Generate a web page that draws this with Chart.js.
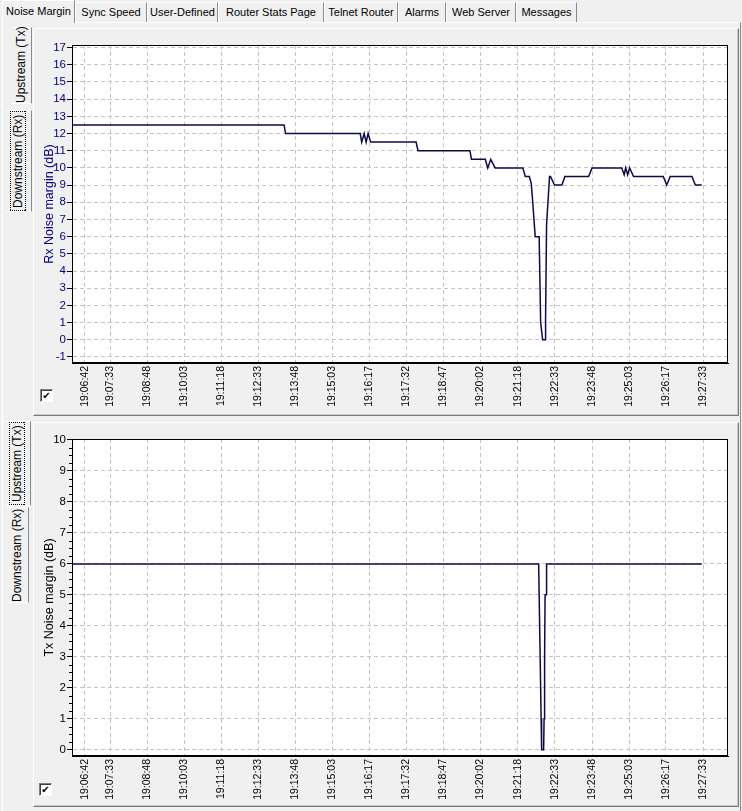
<!DOCTYPE html>
<html>
<head>
<meta charset="utf-8">
<script src="https://cdn.jsdelivr.net/npm/chart.js@4.4.1/dist/chart.umd.min.js"></script>
<style>
body { margin:0; width:742px; height:811px; background:#f0f0f0; position:relative; overflow:hidden;
       font-family:"Liberation Sans", Arial, sans-serif; font-size:11px; color:#000; }
.tab { position:absolute; top:2px; height:20px; box-sizing:border-box; background:#f0f0f0;
       border-top:1px solid #fff; border-left:1px solid #fff; border-right:1px solid #8a8a8a;
       text-align:center; line-height:18px; white-space:nowrap; }
.tab.sel { top:0; height:23px; z-index:2; line-height:20px; }
.panel { position:absolute; left:2px; top:22px; width:739px; height:789px; box-sizing:border-box;
         border-top:1px solid #fff; border-left:1px solid #fff; border-right:1px solid #8a8a8a; }
.box { position:absolute; left:33px; width:706px; box-sizing:border-box;
       border:1px solid; border-color:#fff #7a7a7a #7a7a7a #fff; box-shadow:inset -1px -1px 0 #c8c8c8; }
canvas { position:absolute; }
.vtab { position:absolute; box-sizing:border-box; writing-mode:vertical-rl; transform:rotate(180deg);
        text-align:center; font-size:12px; background:#f0f0f0; white-space:nowrap;
        border-left:1px solid #8a8a8a; border-top:1px solid #fff; border-bottom:1px solid #fff; }
.vtab.sel span { border:1px dotted #000; padding:2px 0; }
.chk { position:absolute; width:13px; height:13px; box-sizing:border-box; background:#fff;
       border:1px solid; border-color:#808080 #fff #fff #808080; box-shadow:inset 1px 1px 0 #404040;
       font-family:"DejaVu Sans"; font-size:10px; line-height:11px; text-align:center; font-weight:bold; }
</style>
</head>
<body>
<div class="panel"></div>
<div class="tab sel" style="left:2px;width:73px">Noise Margin</div>
<div class="tab" style="left:75px;width:72px">Sync Speed</div>
<div class="tab" style="left:147px;width:71px">User-Defined</div>
<div class="tab" style="left:218px;width:106px">Router Stats Page</div>
<div class="tab" style="left:324px;width:74px">Telnet Router</div>
<div class="tab" style="left:398px;width:48px">Alarms</div>
<div class="tab" style="left:446px;width:70px">Web Server</div>
<div class="tab" style="left:516px;width:61px">Messages</div>

<div class="box" style="top:28px;height:388px"></div>
<div class="box" style="top:422px;height:385px"></div>

<div class="vtab" style="left:12px;top:27px;width:20px;height:77px;line-height:18px">Upstream (Tx)</div>
<div class="vtab sel" style="left:6px;top:110px;width:26px;height:102px;line-height:24px"><span>Downstream (Rx)</span></div>
<div class="vtab sel" style="left:5px;top:421px;width:26px;height:85px;line-height:24px"><span>Upstream (Tx)</span></div>
<div class="vtab" style="left:7px;top:507px;width:22px;height:96px;line-height:20px">Downstream (Rx)</div>

<canvas id="rx" width="703" height="384" style="left:34px;top:29px"></canvas>
<canvas id="tx" width="703" height="382" style="left:34px;top:423px"></canvas>

<div class="chk" style="left:40px;top:389px">✔</div>
<div class="chk" style="left:39px;top:783px">✔</div>

<script>
// x axis tick labels (sample times shown under the charts)
var tickLabels = ['19:06:42', '19:07:33', '19:08:48', '19:10:03', '19:11:18', '19:12:33',
                  '19:13:48', '19:15:03', '19:16:17', '19:17:32', '19:18:47', '19:20:02',
                  '19:21:18', '19:22:33', '19:23:48', '19:25:03', '19:26:17', '19:27:33'];
var axisStart = '19:06:16';
var axisEnd = '19:28:23';

// downstream (Rx) noise margin, dB
var rxTimes = ['19:06:16', '19:13:25', '19:13:28', '19:15:59', '19:16:02', '19:16:07', '19:16:11',
               '19:16:15', '19:16:20', '19:17:52', '19:17:56', '19:19:41', '19:19:44', '19:20:12',
               '19:20:17', '19:20:23', '19:20:32', '19:21:28', '19:21:33', '19:21:41', '19:21:45',
               '19:21:48', '19:21:53', '19:22:01', '19:22:04', '19:22:08', '19:22:13', '19:22:14',
               '19:22:16', '19:22:22', '19:22:24', '19:22:32', '19:22:47', '19:22:53', '19:23:41',
               '19:23:48', '19:24:48', '19:24:53', '19:24:56', '19:25:00', '19:25:04', '19:25:12',
               '19:26:12', '19:26:19', '19:26:26', '19:27:10', '19:27:17', '19:27:30'];
var rxValues = [12.5, 12.5, 12, 12, 11.5, 12, 11.5,
                12, 11.5, 11.5, 11, 11, 10.5, 10.5,
                10, 10.5, 10, 10, 9.5, 9.5, 9.1,
                8, 6, 6, 1, 0, 0, 1.2,
                6.7, 9.5, 9.5, 9, 9, 9.5, 9.5,
                10, 10, 9.6, 10, 9.6, 10, 9.5,
                9.5, 9, 9.5, 9.5, 9, 9];

// upstream (Tx) noise margin, dB
var txTimes = ['19:06:16', '19:22:00', '19:22:01', '19:22:02', '19:22:03', '19:22:04', '19:22:05',
               '19:22:06', '19:22:10', '19:22:11', '19:22:12', '19:22:13', '19:22:15', '19:22:16',
               '19:27:30'];
var txValues = [6, 6, 5, 5, 3, 3, 1,
                0, 0, 1, 3, 5, 5, 6,
                6];

function toSec(s) {
    var p = s.split(':');
    return (+p[0]) * 3600 + (+p[1]) * 60 + (+p[2]);
}

var FONT = '"Liberation Sans", Arial, sans-serif';

// white plot background, black frame, small minor ticks on the y axis
var framePlugin = {
    id: 'frame',
    beforeDraw: function (chart) {
        var a = chart.chartArea, ctx = chart.ctx;
        ctx.save();
        ctx.fillStyle = '#fff';
        ctx.fillRect(a.left, a.top, a.right - a.left, a.bottom - a.top);
        ctx.restore();
    },
    afterDraw: function (chart, args, opts) {
        var a = chart.chartArea, ctx = chart.ctx;
        ctx.save();
        ctx.strokeStyle = '#000';
        ctx.lineWidth = 1;
        ctx.strokeRect(Math.round(a.left) + 0.5, Math.round(a.top) + 0.5,
                       Math.round(a.right - a.left) - 1, Math.round(a.bottom - a.top) - 1);
        if (opts.minorStep) {
            var y = chart.scales.y;
            ctx.beginPath();
            for (var v = Math.ceil(y.min); v < y.max; v += opts.minorStep) {
                if (Math.abs(v - Math.round(v)) < 1e-6) continue;
                var py = Math.round(y.getPixelForValue(v)) + 0.5;
                ctx.moveTo(a.left - 3, py);
                ctx.lineTo(a.left, py);
            }
            ctx.stroke();
        }
        ctx.restore();
    }
};

function makeChart(id, times, values, o) {
    var points = times.map(function (t, i) {
        return { x: toSec(t), y: values[i] };
    });
    var ctx = document.getElementById(id).getContext('2d');
    return new Chart(ctx, {
        type: 'line',
        data: {
            datasets: [{
                data: points,
                borderColor: '#0b0b48',
                borderWidth: 1.5,
                pointRadius: 0,
                tension: 0,
                fill: false
            }]
        },
        options: {
            responsive: false,
            animation: false,
            devicePixelRatio: 1,
            layout: { padding: { top: o.padTop, right: 9, left: 0, bottom: 0 } },
            plugins: {
                legend: { display: false },
                tooltip: { enabled: false },
                frame: { minorStep: o.minorStep }
            },
            scales: {
                x: {
                    type: 'linear',
                    min: toSec(axisStart),
                    max: toSec(axisEnd),
                    afterBuildTicks: function (axis) {
                        axis.ticks = tickLabels.map(function (l) { return { value: toSec(l) }; });
                    },
                    afterFit: function (s) { s.height = o.xHeight; },
                    ticks: {
                        autoSkip: false, minRotation: 90, maxRotation: 90, padding: 3,
                        color: '#000', font: { family: FONT, size: 10.5 },
                        callback: function (v, i) { return tickLabels[i]; }
                    },
                    grid: { color: '#c4c4c4', drawTicks: false },
                    border: { color: '#000', dash: [4, 3] }
                },
                y: {
                    min: o.yMin,
                    max: o.yMax,
                    afterBuildTicks: function (axis) {
                        var list = [];
                        for (var v = Math.ceil(o.yMin); v <= Math.floor(o.yMax); v++) {
                            list.push({ value: v });
                        }
                        axis.ticks = list;
                    },
                    afterFit: function (s) { s.width = 38; },
                    ticks: {
                        stepSize: 1, padding: 1, color: o.color,
                        font: { family: FONT, size: 11.5 },
                        callback: function (v) { return String(v); }
                    },
                    grid: { color: '#c4c4c4', tickColor: '#000', tickLength: 5 },
                    border: { color: '#000', dash: [4, 3] },
                    title: {
                        display: true, text: o.title, color: o.color,
                        font: { family: FONT, size: 12.5 },
                        padding: { top: 8, bottom: 0 }
                    }
                }
            }
        },
        plugins: [framePlugin]
    });
}

makeChart('rx', rxTimes, rxValues, {
    title: 'Rx Noise margin (dB)', color: '#000080',
    yMin: -1.35, yMax: 17.15, padTop: 16, xHeight: 50, minorStep: 0
});
makeChart('tx', txTimes, txValues, {
    title: 'Tx Noise margin (dB)', color: '#000',
    yMin: -0.2, yMax: 10.03, padTop: 16, xHeight: 49, minorStep: 0.25
});
</script>
</body>
</html>
